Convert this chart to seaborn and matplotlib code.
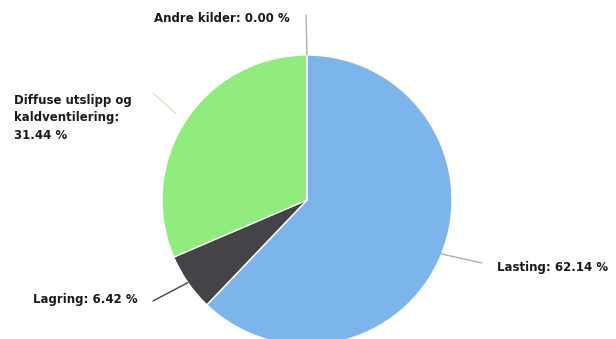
import numpy as np
import matplotlib
matplotlib.use("Agg")
import matplotlib.pyplot as plt
import seaborn as sns

# Data
labels = ["Lasting", "Lagring", "Diffuse utslipp og\nkaldventilering", "Andre kilder"]
shares = [62.14, 6.42, 31.44, 0.00]
colors = ["#7cb5ec", "#434348", "#90ed7d", "#f7a35c"]
line_colors = ["#a9b4bf", "#434348", "#cfe8c8", "#b0b0b0"]

sns.set_theme(style="white")
plt.rcParams['font.family'] = ['DejaVu Sans']

W, H = 616, 339
fig = plt.figure(figsize=(W / 100, H / 100), dpi=100)
ax = fig.add_axes([0, 0, 1, 1])

# pie geometry in pixel units (y measured from bottom)
cx, cy, r = 307, H - 200, 145

ax.pie(shares, colors=colors, startangle=90, counterclock=False,
       center=(cx, cy), radius=r, frame=True,
       wedgeprops=dict(edgecolor='white', linewidth=1))
ax.set_xlim(0, W)
ax.set_ylim(0, H)
ax.set_aspect('equal')
ax.axis('off')

# label layout: (text x, text y from top, alignment, connector end, start offset, separator)
layout = [
    (497, 268, 'left', (482, 263), 0, " "),
    (138, 299, 'right', (153, 301), 0, " "),
    (14, 118, 'left', (153, 93), 12, "\n"),
    (290, 18, 'right', (306, 15), 0, " "),
]

total = sum(shares)
cum = 0
for i, (lab, val) in enumerate(zip(labels, shares)):
    mid = cum + val / 2
    cum += val
    ang = np.deg2rad(90 - 360 * mid / total)
    tx, ty, ha, (ex, ey), off, sep = layout[i]
    sx = cx + (r + off) * np.cos(ang)
    sy = cy + (r + off) * np.sin(ang)
    ax.plot([sx, ex], [sy, H - ey], color=line_colors[i], lw=1, solid_capstyle='round')
    ax.text(tx, H - ty, f"{lab}:{sep}{val:.2f} %", ha=ha, va='center',
            fontsize=8.5, fontweight='bold', color='#1a1a1a', linespacing=1.45)

fig.savefig("out.png", dpi=100)
